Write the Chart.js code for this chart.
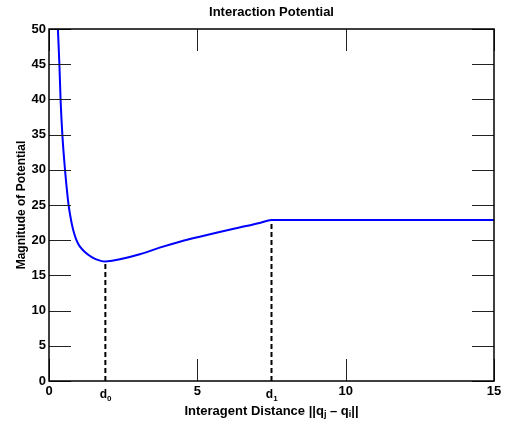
<!DOCTYPE html>
<html>
<head>
<meta charset="utf-8">
<title>Interaction Potential</title>
<script src="https://cdn.jsdelivr.net/npm/chart.js@4"></script>
<style>
    html, body { margin: 0; padding: 0; background: #fff; }
    #wrap { width: 506px; height: 423px; }
</style>
</head>
<body>
<div id="wrap"><canvas id="potentialChart" width="506" height="423"></canvas></div>
<script>
// ===== DATA =====
const distance  = [0.30, 0.35, 0.39, 0.45, 0.54, 0.60, 0.66, 0.72, 0.78, 0.84, 0.90, 0.97, 1.05, 1.19, 1.44, 1.72, 1.90, 2.39, 3.06, 3.73, 4.41, 5.08, 5.75, 6.42, 7.10, 7.50, 15.0];
const potential = [50.0, 45.0, 40.0, 35.0, 30.0, 27.3, 25.0, 23.4, 22.1, 21.1, 20.3, 19.6, 19.05, 18.4, 17.6, 17.1, 16.97, 17.29, 18.0, 18.94, 19.79, 20.5, 21.16, 21.8, 22.45, 22.87, 22.87];

// d0 and d1 markers (dashed drop lines)
const markerX     = [1.9, 7.5];
const markerLevel = [16.97, 22.87];
const markerSub   = ['0', '1'];

const xTickValues = [0, 5, 10, 15];
const yTickStep = 5;

const FONT = '"Liberation Sans", Arial, Helvetica, sans-serif';

// Title, x title with subscripts, d0/d1 labels and inward ticks
const decorPlugin = {
    id: 'decor',
    afterDraw(chart) {
        const { ctx, chartArea: a, scales: { x, y } } = chart;
        ctx.save();

        // inward ticks
        ctx.strokeStyle = '#222';
        ctx.lineWidth = 1;
        ctx.beginPath();
        y.ticks.forEach(t => {
            const py = Math.round(y.getPixelForValue(t.value)) + 0.5;
            ctx.moveTo(a.left, py); ctx.lineTo(a.left + 22, py);
            ctx.moveTo(a.right, py); ctx.lineTo(a.right - 22, py);
        });
        xTickValues.forEach(v => {
            const px = Math.round(x.getPixelForValue(v)) + 0.5;
            ctx.moveTo(px, a.bottom); ctx.lineTo(px, a.bottom - 22);
            ctx.moveTo(px, a.top); ctx.lineTo(px, a.top + 22);
        });
        ctx.stroke();

        // frame
        ctx.strokeStyle = '#000';
        ctx.lineWidth = 1.5;
        ctx.strokeRect(a.left, a.top, a.right - a.left, a.bottom - a.top);

        ctx.fillStyle = '#000';
        ctx.textBaseline = 'middle';

        // chart title
        ctx.font = 'bold 13px ' + FONT;
        ctx.textAlign = 'center';
        ctx.fillText('Interaction Potential', (a.left + a.right) / 2, 12.5);

        // d0, d1 labels
        markerX.forEach((v, i) => {
            const px = x.getPixelForValue(v);
            ctx.font = 'bold 12px ' + FONT;
            ctx.textAlign = 'left';
            const w = ctx.measureText('d').width;
            ctx.fillText('d', px - w / 2 - 2, 395);
            ctx.font = 'bold 8px ' + FONT;
            ctx.fillText(markerSub[i], px + w / 2 - 2, 399);
        });

        // x axis title with subscripts
        const parts = [
            ['Interagent Distance ||q', false],
            ['j', true],
            [' \u2013 q', false],
            ['i', true],
            ['||', false]
        ];
        const big = 'bold 13px ' + FONT, small = 'bold 9px ' + FONT;
        let total = 0;
        parts.forEach(p => { ctx.font = p[1] ? small : big; total += ctx.measureText(p[0]).width; });
        let cx = (a.left + a.right) / 2 - total / 2;
        ctx.textAlign = 'left';
        parts.forEach(p => {
            ctx.font = p[1] ? small : big;
            ctx.fillText(p[0], cx, p[1] ? 415 : 411);
            cx += ctx.measureText(p[0]).width;
        });

        ctx.restore();
    }
};

const dropLines = markerX.map((v, i) => ({
    data: [{ x: v, y: 0 }, { x: v, y: markerLevel[i] }],
    borderColor: '#000',
    borderWidth: 2,
    borderDash: [5, 3],
    pointRadius: 0,
    fill: false
}));

new Chart(document.getElementById('potentialChart'), {
    type: 'line',
    data: {
        datasets: [
            {
                data: distance.map((d, i) => ({ x: d, y: potential[i] })),
                borderColor: '#0000ff',
                borderWidth: 2,
                pointRadius: 0,
                cubicInterpolationMode: 'monotone',
                fill: false
            },
            ...dropLines
        ]
    },
    options: {
        responsive: false,
        animation: false,
        layout: { padding: { top: 29, right: 12, left: 0, bottom: 0 } },
        plugins: {
            legend: { display: false },
            tooltip: { enabled: false },
            title: { display: false }
        },
        scales: {
            x: {
                type: 'linear',
                min: 0,
                max: 15,
                grid: { display: false, drawTicks: false },
                border: { display: false },
                afterBuildTicks: (scale) => { scale.ticks = xTickValues.map(v => ({ value: v })); },
                afterFit: (scale) => { scale.height = 42; },
                ticks: {
                    autoSkip: false,
                    padding: 3,
                    color: '#000',
                    font: { family: FONT, size: 13, weight: 'bold' }
                }
            },
            y: {
                min: 0,
                max: 50,
                grid: { display: false, drawTicks: false },
                border: { display: false },
                afterFit: (scale) => { scale.width = 49; },
                ticks: {
                    stepSize: yTickStep,
                    padding: 3,
                    color: '#000',
                    font: { family: FONT, size: 13, weight: 'bold' }
                },
                title: {
                    display: true,
                    text: 'Magnitude of Potential',
                    color: '#000',
                    padding: { top: 14, bottom: 0 },
                    font: { family: FONT, size: 12, weight: 'bold' }
                }
            }
        }
    },
    plugins: [decorPlugin]
});
</script>
</body>
</html>
